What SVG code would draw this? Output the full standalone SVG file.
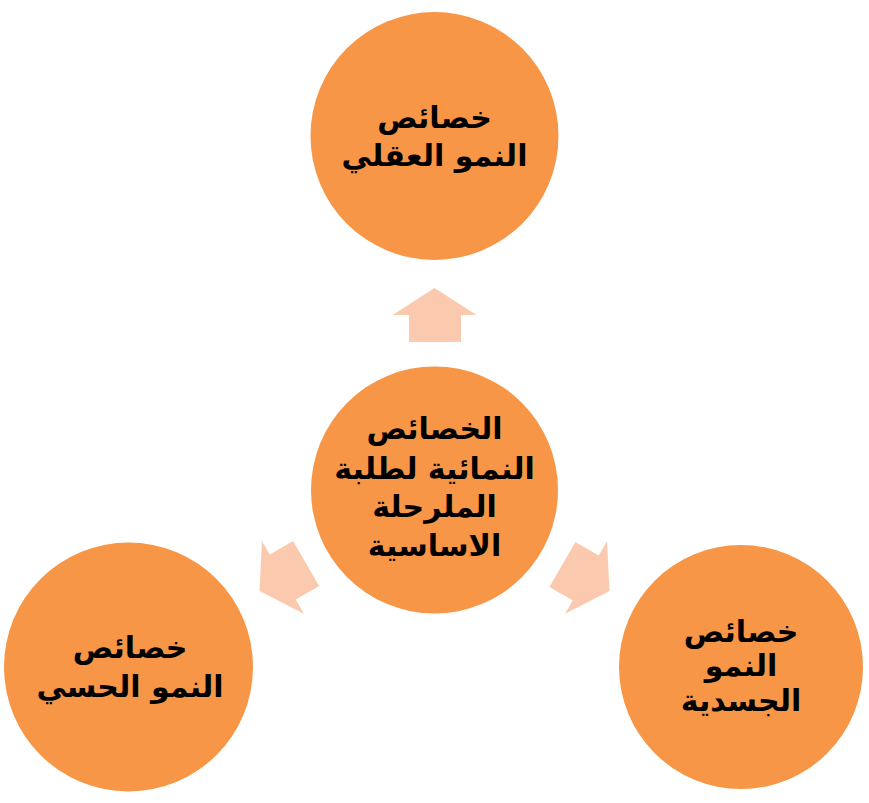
<svg xmlns="http://www.w3.org/2000/svg" width="869" height="803" viewBox="0 0 869 803">
<style>
.node{fill:#F79646}
.arrow{fill:#FAC9AE}
.lbl{font-family:"DejaVu Sans","Noto Sans",sans-serif;font-weight:bold;font-size:30px;fill:#000;text-anchor:middle;direction:rtl}
</style>
<defs>
<path id="arr" d="M434.5,288 L476.5,315 L461,315 L461,342 L409,342 L409,315 L392.5,315 Z"/>
</defs>
<rect width="869" height="803" fill="#fff"/>
<g id="connectors">
<use href="#arr" class="arrow"/>
<use href="#arr" class="arrow" transform="rotate(-120 434.5 490)"/>
<use href="#arr" class="arrow" transform="rotate(120 434.5 490)"/>
</g>
<g id="top">
<circle class="node" cx="434.5" cy="136" r="124"/>
<text class="lbl" x="434.5" y="128">خصائص</text>
<text class="lbl" x="434.5" y="166">النمو العقلي</text>
</g>
<g id="center">
<circle class="node" cx="434.5" cy="490" r="123.5"/>
<text class="lbl" x="434.5" y="439">الخصائص</text>
<text class="lbl" x="434.5" y="479">النمائية لطلبة</text>
<text class="lbl" x="434.5" y="517">الملرحلة</text>
<text class="lbl" x="434.5" y="556">الاساسية</text>
</g>
<g id="left">
<circle class="node" cx="128.5" cy="667" r="124.5"/>
<text class="lbl" x="130" y="658">خصائص</text>
<text class="lbl" x="130" y="697">النمو الحسي</text>
</g>
<g id="right">
<circle class="node" cx="741" cy="667" r="122"/>
<text class="lbl" x="741" y="642">خصائص</text>
<text class="lbl" x="741" y="676">النمو</text>
<text class="lbl" x="741" y="711">الجسدية</text>
</g>
</svg>
